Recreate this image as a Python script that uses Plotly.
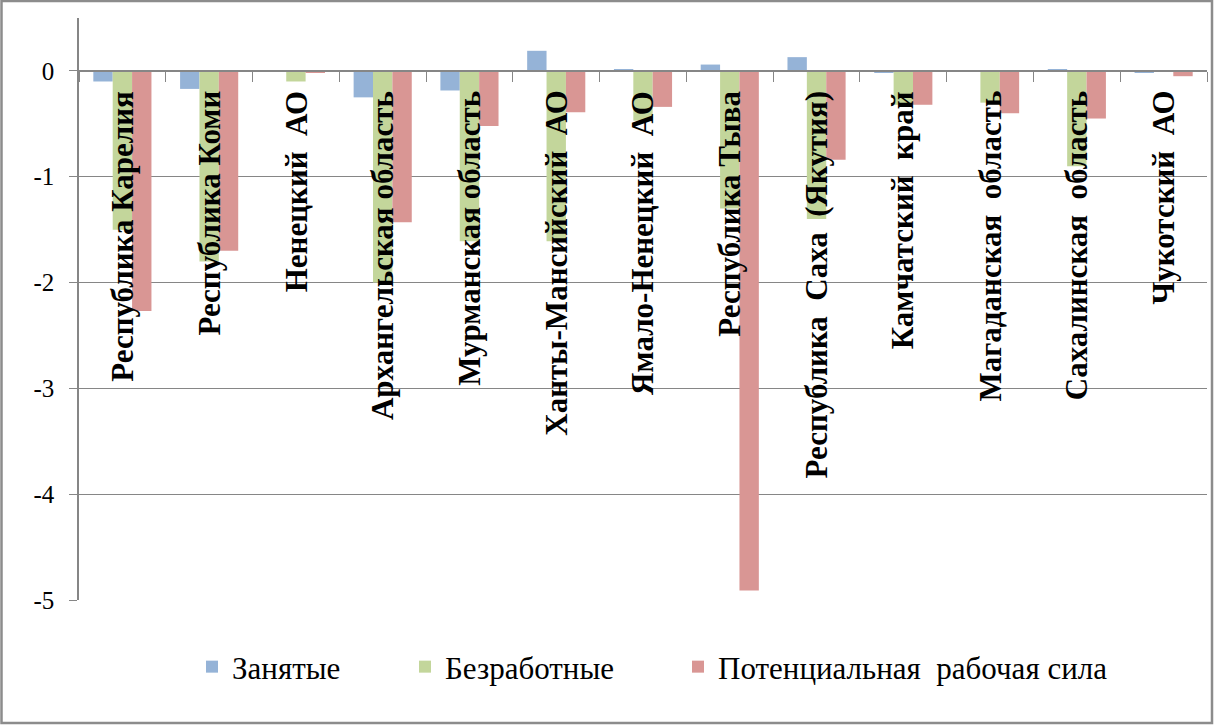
import plotly.graph_objects as go

categories = ["Республика Карелия", "Республика Коми", "Ненецкий  АО", "Архангельская область",
              "Мурманская область", "Ханты-Мансийский  АО", "Ямало-Ненецкий  АО", "Республика Тыва",
              "Республика  Саха  (Якутия)", "Камчатский  край", "Магаданская  область",
              "Сахалинская  область", "Чукотский  АО"]
series_names = ["Занятые", "Безработные", "Потенциальная  рабочая сила"]
employed = [-0.10, -0.17, 0.0, -0.25, -0.185, 0.19, 0.01, 0.06, 0.13, -0.02, -0.01, 0.01, -0.02]
unemployed = [-1.50, -1.80, -0.10, -2.00, -1.61, -1.61, -0.47, -1.30, -1.40, -0.32, -0.30, -0.90, 0.0]
potential = [-2.27, -1.70, -0.02, -1.43, -0.52, -0.39, -0.34, -4.91, -0.84, -0.32, -0.40, -0.45, -0.05]
y_ticks = [0, -1, -2, -3, -4, -5]

colors = ["#95B3D7", "#C3D69B", "#D99694"]
serif = "Liberation Serif, Times New Roman, serif"
W, H = 1215, 725
ML, MR, MT, MB = 79, 8, 18, 125
pw, ph = W - ML - MR, H - MT - MB
ymin, ymax = -5, 0.5
label_top = -0.17

fig = go.Figure()
legends = ["legend", "legend2", "legend3"]
for name, vals, col, lg in zip(series_names, [employed, unemployed, potential], colors, legends):
    fig.add_trace(go.Bar(x=categories, y=vals, name=name, marker_color=col,
                         marker_line_width=0, legend=lg))

# category labels written inside the plot, rotated
for cat in categories:
    fig.add_annotation(x=cat, y=label_top, text=f"<b>{cat}</b>", textangle=-90, showarrow=False,
                       xanchor="center", yanchor="top",
                       font=dict(family=serif, size=31, color="black"))


def px_x(px):
    return (px - ML) / pw


def px_y(py):
    return (H - MB - py) / ph


leg_font = dict(family=serif, size=31, color="black")
leg_left = [192, 405, 678]
layout_legends = {}
for lg, lx in zip(legends, leg_left):
    layout_legends[lg] = dict(x=px_x(lx), y=px_y(667), xanchor="left", yanchor="middle",
                              orientation="h", font=leg_font, bgcolor="rgba(0,0,0,0)")

fig.update_layout(
    width=W, height=H,
    margin=dict(l=ML, r=MR, t=MT, b=MB),
    font=dict(family=serif, color="black"),
    plot_bgcolor="white", paper_bgcolor="white",
    barmode="group", bargap=0.33, bargroupgap=0,
    showlegend=True,
    **layout_legends,
)

fig.update_xaxes(
    anchor="free", position=(0 - ymin) / (ymax - ymin),
    showline=True, linecolor="#868686", linewidth=1.5,
    ticks="outside", ticklen=10, tickcolor="#868686", tickson="boundaries",
    showticklabels=False, showgrid=False, zeroline=False,
)
fig.update_yaxes(
    range=[ymin, ymax], tickvals=y_ticks, ticktext=[str(v) for v in y_ticks],
    showline=True, linecolor="#868686", linewidth=1.5,
    ticks="outside", ticklen=8, tickcolor="#868686", ticklabelstandoff=10,
    showgrid=True, gridcolor="#868686", gridwidth=1.2, zeroline=False,
    tickfont=dict(family=serif, size=25, color="black"),
)

# outer chart frame
fig.add_shape(type="rect", xref="paper", yref="paper",
              x0=px_x(1.5), x1=px_x(1212), y0=px_y(723), y1=px_y(1),
              line=dict(color="#8C8C8C", width=2.5), fillcolor="rgba(0,0,0,0)", layer="below")

fig.write_html("out.html", config={"displayModeBar": False},
               post_script="document.body.style.margin='0';")
